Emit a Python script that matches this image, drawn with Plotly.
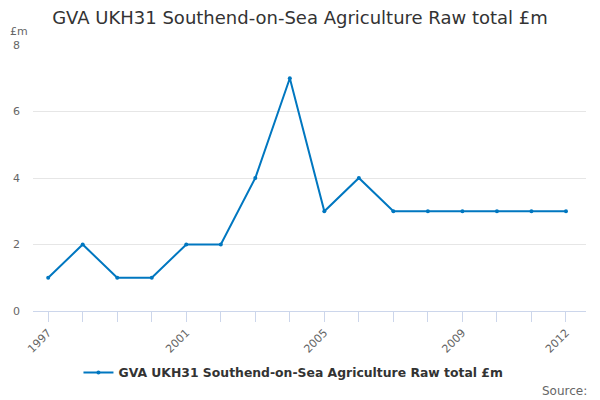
import plotly.graph_objects as go

years = list(range(1997, 2013))
values = [1, 2, 1, 1, 2, 2, 4, 7, 3, 4, 3, 3, 3, 3, 3, 3]
label_years = [1997, 2001, 2005, 2009, 2012]
series_name = "GVA UKH31 Southend-on-Sea Agriculture Raw total £m"

fig = go.Figure()
fig.add_trace(go.Scatter(
    x=years, y=values, mode="lines+markers",
    name="<b>" + series_name + "</b>",
    line=dict(color="#0077c0", width=2),
    marker=dict(size=4, color="#0077c0"),
))

fig.update_layout(
    width=600, height=400,
    margin=dict(l=33, r=14, t=45, b=89),
    paper_bgcolor="white", plot_bgcolor="white",
    font=dict(family="DejaVu Sans", color="#666666"),
    title=dict(text=series_name,
               x=0.5, xanchor="center", y=0.955, yanchor="middle",
               font=dict(size=18, color="#333333")),
    showlegend=True,
    legend=dict(orientation="h", x=0.471, xanchor="center", y=-0.233, yanchor="middle",
                font=dict(size=12.4, color="#333333")),
    xaxis=dict(
        range=[1996.56, 2012.58],
        tickvals=years,
        ticktext=[str(y) if y in label_years else "" for y in years],
        tickangle=-45, ticks="outside", ticklen=10, tickcolor="#ccd6eb",
        showline=True, linecolor="#ccd6eb", linewidth=1,
        showgrid=False, zeroline=False,
        tickfont=dict(size=11, color="#666666"),
    ),
    yaxis=dict(
        range=[0, 8], dtick=2, showgrid=True, gridcolor="#e6e6e6",
        zeroline=False, showline=False, ticklabelstandoff=12,
        tickfont=dict(size=11, color="#666666"),
    ),
    annotations=[
        dict(text="£m", xref="paper", yref="paper", x=-0.025, y=1.05,
             xanchor="center", yanchor="middle", showarrow=False,
             font=dict(size=11, color="#666666")),
        dict(text="Source:", xref="paper", yref="paper", x=1.005, y=-0.3,
             xanchor="right", yanchor="middle", showarrow=False,
             font=dict(size=12, color="#666666")),
    ],
)

# drop the page margin so the chart sits at the window corner
fig.write_html("out.html", config={"displayModeBar": False},
               post_script="document.body.style.margin='0';")
